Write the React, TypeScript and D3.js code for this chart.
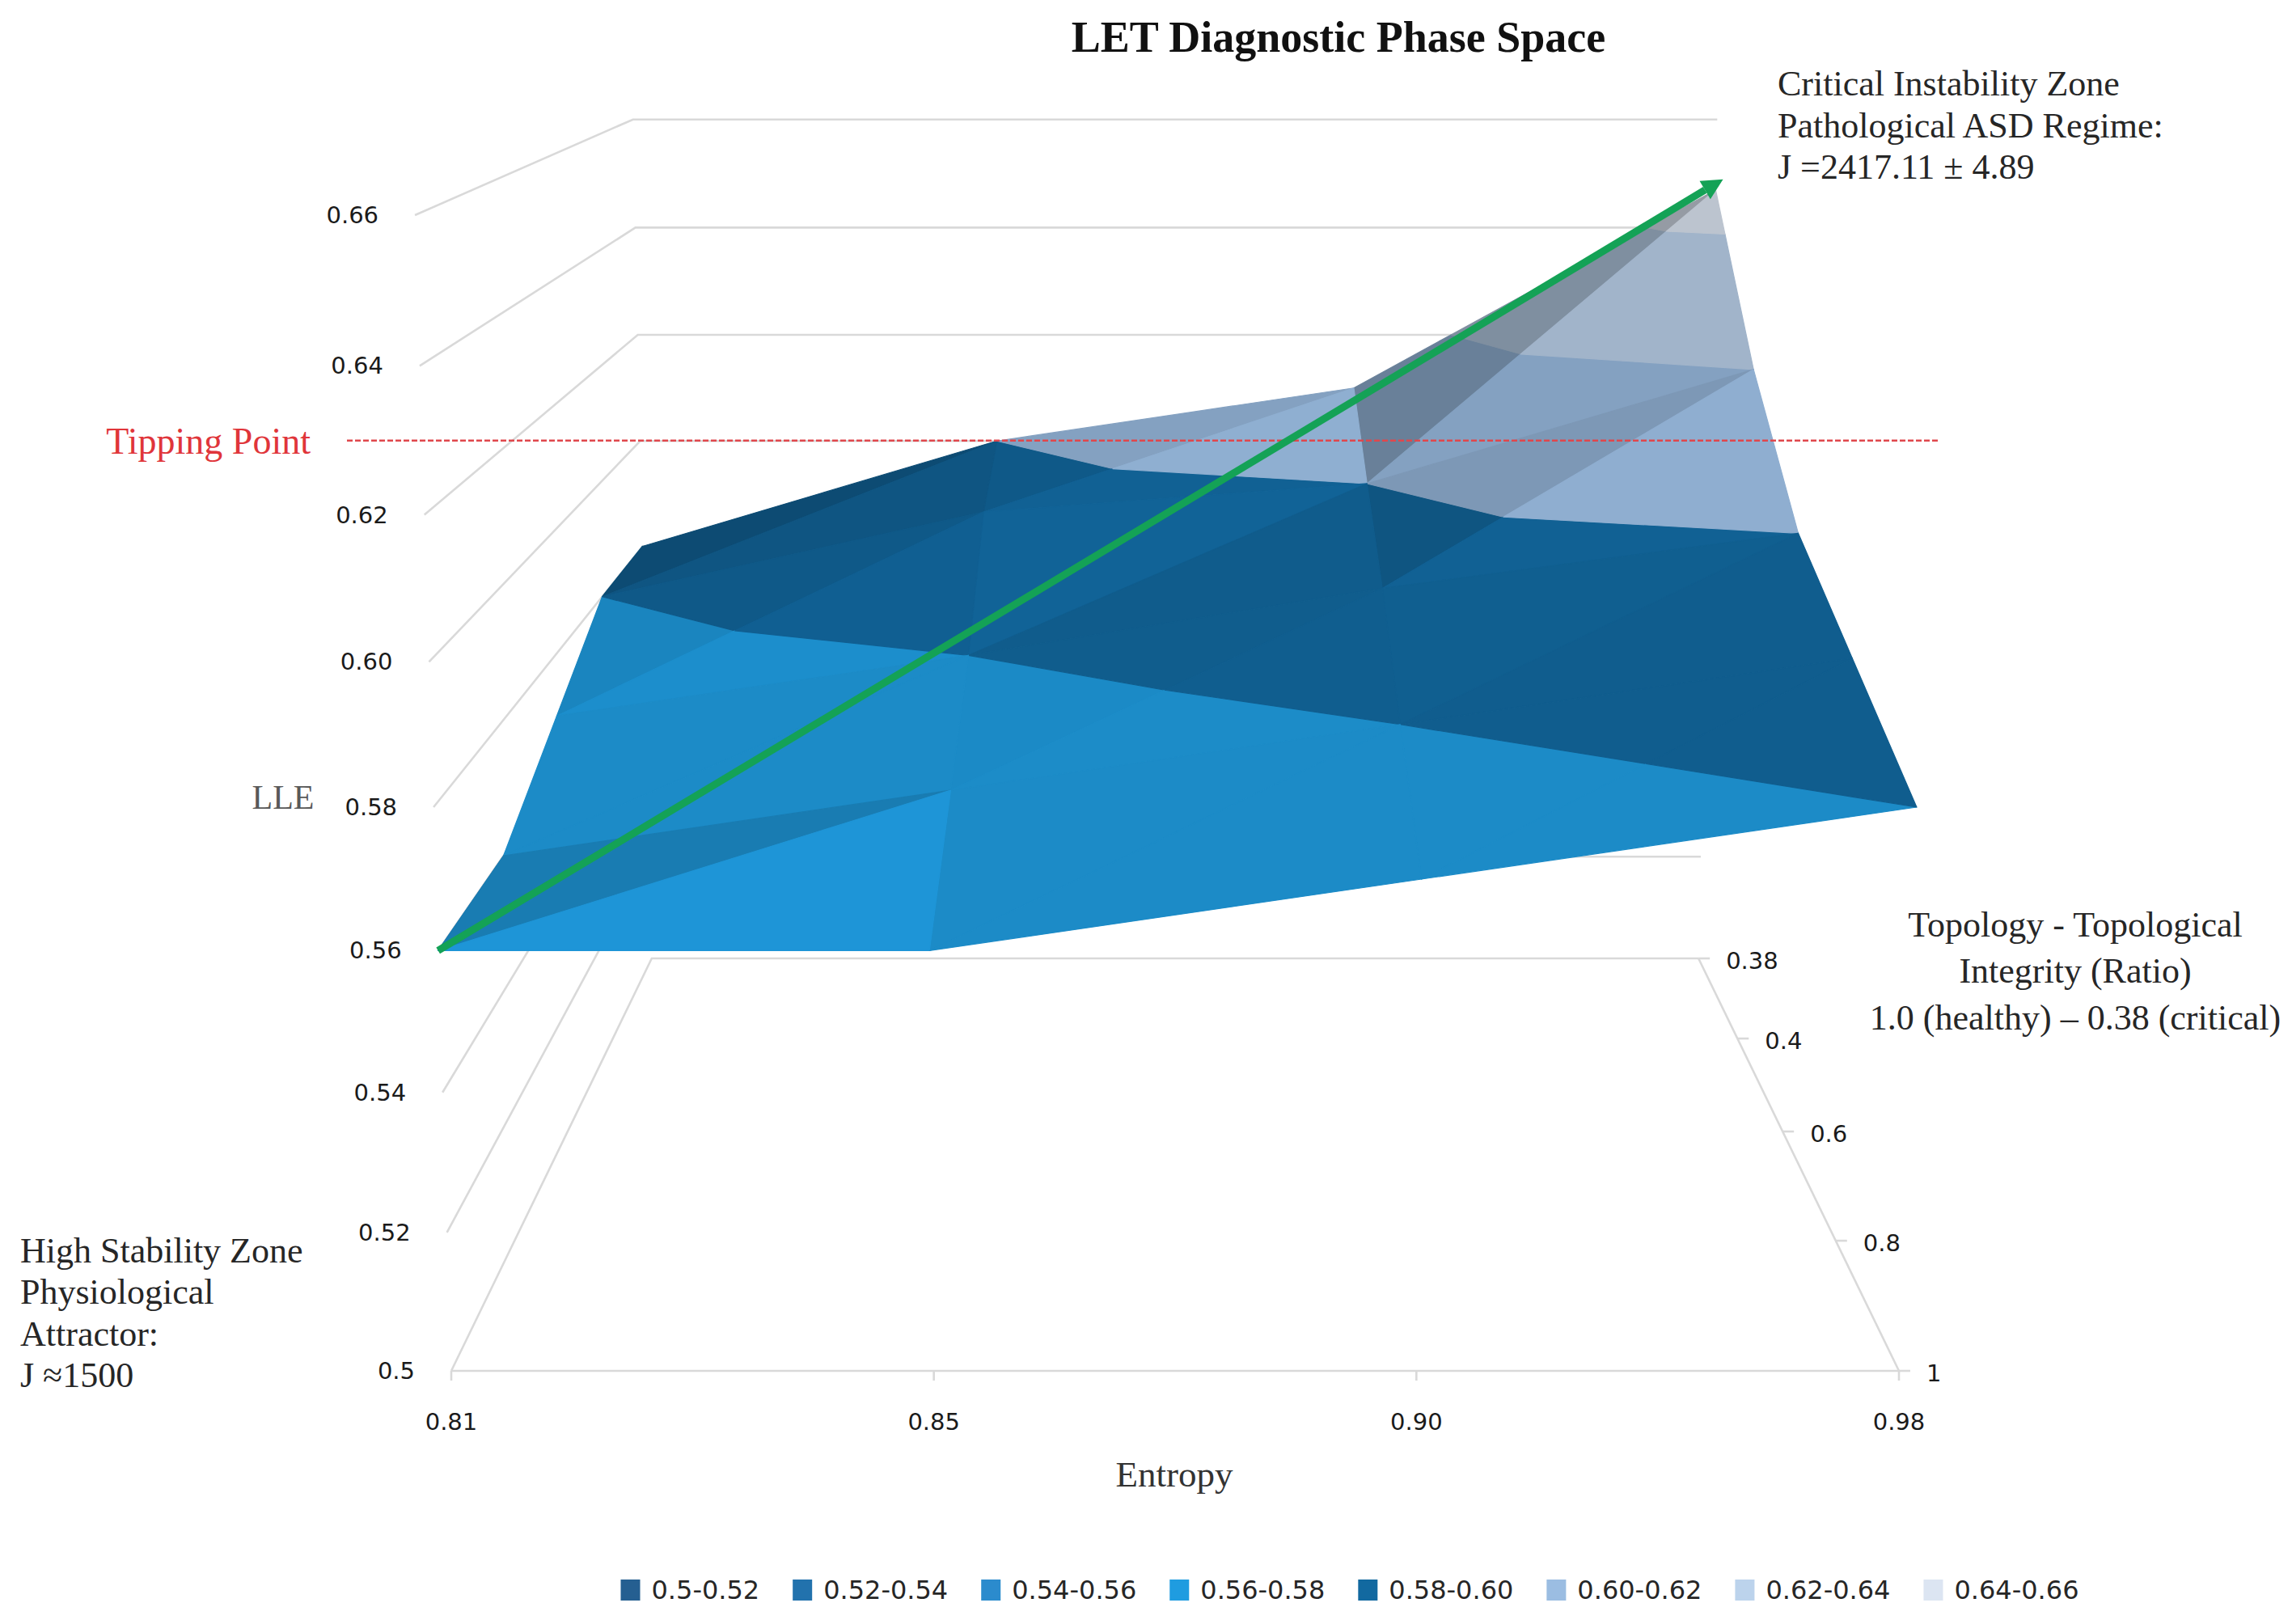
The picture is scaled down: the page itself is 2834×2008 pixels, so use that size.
import React, { useMemo } from 'react';
import * as d3 from 'd3';

// ---------- data ----------
const entropyLabels = ['0.81', '0.85', '0.90', '0.98'];
const topologyLabels = ['1', '0.8', '0.6', '0.4', '0.38']; // front -> back
// LLE values for each Topology series, per Entropy category
const lleTopo100 = [0.56, 0.56, 0.57, 0.58];
const lleTopo080 = [0.56, 0.57, 0.58, 0.59];
const lleTopo060 = [0.57, 0.58, 0.591, 0.6];
const lleTopo040 = [0.58, 0.595, 0.6, 0.62];
const lleTopo038 = [0.58, 0.6, 0.61, 0.647];
const lleSeries = [lleTopo100, lleTopo080, lleTopo060, lleTopo040, lleTopo038];
const lleTicks = [0.5, 0.52, 0.54, 0.56, 0.58, 0.6, 0.62, 0.64, 0.66];
const lleTickLabels = ['0.5', '0.52', '0.54', '0.56', '0.58', '0.60', '0.62', '0.64', '0.66'];
const bandEdges = [0.5, 0.52, 0.54, 0.56, 0.58, 0.6, 0.62, 0.64, 0.66];
const bandLabels = ['0.5-0.52', '0.52-0.54', '0.54-0.56', '0.56-0.58', '0.58-0.60', '0.60-0.62', '0.62-0.64', '0.64-0.66'];
const bandColors = ['#255F91', '#2272AD', '#2B8BCD', '#1F9CE0', '#1269A0', '#9BBDE2', '#BCD3EC', '#DCE5F2'];
const tippingPoint = 0.63;

// ---------- projection (calibrated perspective of the 3-D box) ----------
const W = 2834;
const H = 2008;
const xS = d3.scalePoint<string>().domain(entropyLabels).range([0, 1]);
const zS = d3.scalePoint<string>().domain(topologyLabels).range([0, 1]);
const yS = d3.scaleLinear().domain([0.5, 0.66]).range([0, 1]);
const CX = 1453, FW = 1790, FLOOR = 1695, PZ = 0.383, PY = -0.0478, BZ = -56.1, EY = -1441.7;
function proj(X: number, Y: number, Z: number): [number, number, number] {
  const w = 1 + PZ * Z + PY * Y;
  return [CX + (FW * (X - 0.5)) / w, (FLOOR + BZ * Z + EY * Y) / w, w];
}

type V = { X: number; Z: number; v: number };
function lerpV(a: V, b: V, t: number): V {
  return { X: a.X + (b.X - a.X) * t, Z: a.Z + (b.Z - a.Z) * t, v: a.v + (b.v - a.v) * t };
}
function clip(poly: V[], t: number, keepAbove: boolean): V[] {
  const out: V[] = [];
  for (let k = 0; k < poly.length; k++) {
    const a = poly[k], b = poly[(k + 1) % poly.length];
    const ain = keepAbove ? a.v >= t : a.v <= t;
    const bin = keepAbove ? b.v >= t : b.v <= t;
    if (ain) out.push(a);
    if (ain !== bin) out.push(lerpV(a, b, (t - a.v) / (b.v - a.v)));
  }
  return out;
}

const light = (() => {
  const l = [0.55, 0.7, -0.45];
  const n = Math.hypot(l[0], l[1], l[2]);
  return l.map((d) => d / n);
})();

function shadeOf(tri: V[]): number {
  const P = tri.map((p) => [p.X * FW, yS(p.v) * 1429, p.Z * 1000]);
  const u = [P[1][0] - P[0][0], P[1][1] - P[0][1], P[1][2] - P[0][2]];
  const w = [P[2][0] - P[0][0], P[2][1] - P[0][1], P[2][2] - P[0][2]];
  let n = [u[1] * w[2] - u[2] * w[1], u[2] * w[0] - u[0] * w[2], u[0] * w[1] - u[1] * w[0]];
  if (n[1] < 0) n = n.map((d) => -d);
  const len = Math.hypot(n[0], n[1], n[2]);
  const dot = (n[0] * light[0] + n[1] * light[1] + n[2] * light[2]) / len;
  return Math.min(1.0, 0.3 + 0.81 * Math.max(0, dot));
}

function shadeColor(c: string, f: number): string {
  const r = d3.rgb(c);
  return d3.rgb(r.r * f, r.g * f, r.b * f).formatHex();
}

const serif = '"Liberation Serif", "Times New Roman", serif';
const sans = '"DejaVu Sans", Lato, sans-serif';

function measure(text: string, font: string): number {
  if (typeof document === 'undefined') return text.length * 17;
  const c = document.createElement('canvas').getContext('2d');
  if (!c) return text.length * 17;
  c.font = font;
  return c.measureText(text).width;
}

export default function App() {
  const pieces = useMemo(() => {
    const tris: { pts: V[]; depth: number }[] = [];
    for (let j = 0; j < topologyLabels.length - 1; j++) {
      for (let i = 0; i < entropyLabels.length - 1; i++) {
        const mk = (ii: number, jj: number): V => ({
          X: xS(entropyLabels[ii]) as number,
          Z: zS(topologyLabels[jj]) as number,
          v: lleSeries[jj][ii],
        });
        const p00 = mk(i, j), p10 = mk(i + 1, j), p11 = mk(i + 1, j + 1), p01 = mk(i, j + 1);
        for (const t of [[p00, p10, p11], [p00, p11, p01]]) {
          const depth = d3.mean(t, (p) => proj(p.X, yS(p.v), p.Z)[2]) as number;
          tris.push({ pts: t, depth });
        }
      }
    }
    tris.sort((a, b) => b.depth - a.depth);
    const out: { d: string; fill: string }[] = [];
    tris.forEach((t) => {
      const f = shadeOf(t.pts);
      for (let b = 0; b < bandLabels.length; b++) {
        let poly = clip(t.pts, bandEdges[b], true);
        if (poly.length < 3) continue;
        poly = clip(poly, bandEdges[b + 1], false);
        if (poly.length < 3) continue;
        const line = d3.line();
        const d = line(poly.map((p) => {
          const q = proj(p.X, yS(p.v), p.Z);
          return [q[0], q[1]] as [number, number];
        })) + 'Z';
        out.push({ d, fill: shadeColor(bandColors[b], f) });
      }
    });
    return out;
  }, []);

  const line = d3.line();
  const pt = (X: number, Y: number, Z: number): [number, number] => {
    const q = proj(X, Y, Z);
    return [q[0], q[1]];
  };

  // gridlines on left & back walls
  const grid = lleTicks.map((t) => line([pt(0, yS(t), 0), pt(0, yS(t), 1), pt(1, yS(t), 1)]) as string);
  const floorFront = line([pt(0, 0, 0), pt(1, 0, 0)]) as string;
  const floorRight = line([pt(1, 0, 0), pt(1, 0, 1)]) as string;

  // arrow from the first to the last surface point
  const a0 = pt(xS(entropyLabels[0]) as number, yS(lleTopo100[0]), zS(topologyLabels[0]) as number);
  const a1raw = pt(xS(entropyLabels[3]) as number, yS(lleTopo038[3]), zS(topologyLabels[4]) as number);
  const dx = a1raw[0] - a0[0], dy = a1raw[1] - a0[1];
  const L = Math.hypot(dx, dy);
  const ux = dx / L, uy = dy / L;
  const tip: [number, number] = [a1raw[0] + ux * 6 + 4, a1raw[1] + uy * 6 - 10];
  const headLen = 26, headW = 13;
  const base: [number, number] = [tip[0] - ux * headLen, tip[1] - uy * headLen];
  const head = `M${tip[0]},${tip[1]}L${base[0] - uy * headW},${base[1] + ux * headW}L${base[0] + uy * headW},${base[1] - ux * headW}Z`;

  const tipY = pt(0, yS(tippingPoint), 0)[1];

  // legend layout
  const legFont = `32px ${sans}`;
  const sw = 24, txtOff = 38, gap = 41;
  const widths = bandLabels.map((l) => measure(l, legFont));
  const total = d3.sum(widths) + bandLabels.length * txtOff + (bandLabels.length - 1) * gap;
  const legCx = 1669, legY = 1966;
  let cursor = legCx - total / 2;
  const legendItems = bandLabels.map((l, i) => {
    const x = cursor;
    cursor += txtOff + widths[i] + gap;
    return { l, x, c: bandColors[i] };
  });

  const tickFs = 29;

  return (
    <svg width={W} height={H} viewBox={`0 0 ${W} ${H}`} style={{ display: 'block', background: '#fff' }}>
      <style>{'body{margin:0}'}</style>
      <rect width={W} height={H} fill="#fff" />
      {/* title */}
      <text x={1655} y={64} textAnchor="middle" fontFamily={serif} fontWeight="bold" fontSize={54} fill="#111">
        LET Diagnostic Phase Space
      </text>

      {/* walls / floor */}
      <g fill="none" stroke="#D9D9D9" strokeWidth={2.6}>
        {grid.map((d, i) => (
          <path key={i} d={d} />
        ))}
        <path d={floorFront} />
        <path d={floorRight} />
        {entropyLabels.map((e) => {
          const p = pt(xS(e) as number, 0, 0);
          return <line key={e} x1={p[0]} y1={p[1]} x2={p[0]} y2={p[1] + 12} />;
        })}
        {topologyLabels.map((t) => {
          const p = pt(1, 0, zS(t) as number);
          return <line key={t} x1={p[0]} y1={p[1]} x2={p[0] + 14} y2={p[1]} />;
        })}
      </g>

      {/* surface */}
      <g>
        {pieces.map((p, i) => (
          <path key={i} d={p.d} fill={p.fill} stroke={p.fill} strokeWidth={1.2} strokeLinejoin="round" />
        ))}
      </g>

      {/* axis labels */}
      <g fontFamily={sans} fontSize={tickFs} fill="#1a1a1a">
        {lleTicks.map((t, i) => {
          const p = pt(0, yS(t), 0);
          return (
            <text key={t} x={p[0] - 45} y={p[1]} textAnchor="end" dominantBaseline="central">
              {lleTickLabels[i]}
            </text>
          );
        })}
        {entropyLabels.map((e) => {
          const p = pt(xS(e) as number, 0, 0);
          return (
            <text key={e} x={p[0]} y={p[1] + 63} textAnchor="middle" dominantBaseline="central">
              {e}
            </text>
          );
        })}
        {topologyLabels.map((t) => {
          const p = pt(1, 0, zS(t) as number);
          return (
            <text key={t} x={p[0] + 34} y={p[1] + 3} textAnchor="start" dominantBaseline="central">
              {t}
            </text>
          );
        })}
      </g>

      <text x={350} y={1000} textAnchor="middle" fontFamily={serif} fontSize={42} fill="#595959">
        LLE
      </text>
      <text x={1452} y={1838} textAnchor="middle" fontFamily={serif} fontSize={45} fill="#333">
        Entropy
      </text>

      {/* tipping point */}
      <line x1={429} x2={2397} y1={tipY} y2={tipY} stroke="#E0474C" strokeWidth={2.6} strokeDasharray="7 3" />
      <text x={384} y={tipY + 16} textAnchor="end" fontFamily={serif} fontSize={46} fill="#E0353A">
        Tipping Point
      </text>

      {/* arrow */}
      <line x1={a0[0]} y1={a0[1]} x2={base[0]} y2={base[1]} stroke="#14A256" strokeWidth={9} />
      <path d={head} fill="#14A256" />

      {/* annotations */}
      <g fontFamily={serif} fontSize={44} fill="#262626">
        <text x={2198} y={118}>Critical Instability Zone</text>
        <text x={2198} y={170}>Pathological ASD Regime:</text>
        <text x={2198} y={221}>J =2417.11 ± 4.89</text>
        <g textAnchor="middle">
          <text x={2566} y={1158}>Topology - Topological</text>
          <text x={2566} y={1215}>Integrity (Ratio)</text>
          <text x={2566} y={1273}>1.0 (healthy) – 0.38 (critical)</text>
        </g>
        <text x={25} y={1561}>High Stability Zone</text>
        <text x={25} y={1612}>Physiological</text>
        <text x={25} y={1664}>Attractor:</text>
        <text x={25} y={1715}>J ≈1500</text>
      </g>

      {/* legend */}
      <g fontFamily={sans} fontSize={32} fill="#262626">
        {legendItems.map((it) => (
          <g key={it.l}>
            <rect x={it.x} y={legY - 13} width={sw} height={26} fill={it.c} />
            <text x={it.x + txtOff} y={legY} dominantBaseline="central">
              {it.l}
            </text>
          </g>
        ))}
      </g>
    </svg>
  );
}
